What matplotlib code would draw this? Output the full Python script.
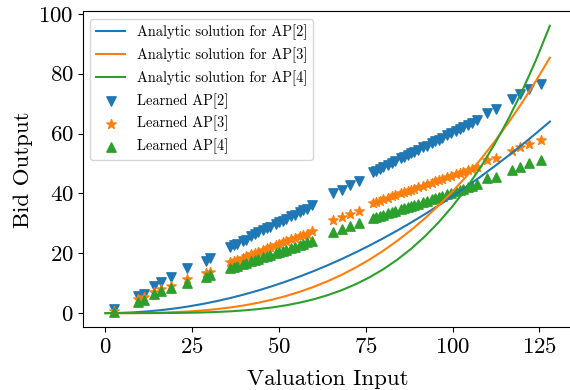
import matplotlib
matplotlib.use("Agg")
import matplotlib.pyplot as plt

plt.rcParams["font.family"] = "serif"
plt.rcParams["font.serif"] = ["cmr10"]
plt.rcParams["mathtext.fontset"] = "cm"
plt.rcParams["axes.unicode_minus"] = False
plt.rcParams["axes.formatter.use_mathtext"] = True

# analytic bid functions, every 4 units of valuation
grid = [0, 4, 8, 12, 16, 20, 24, 28, 32, 36, 40, 44, 48, 52, 56, 60, 64,
        68, 72, 76, 80, 84, 88, 92, 96, 100, 104, 108, 112, 116, 120, 124, 128]
analytic_ap2 = [0, 0.06, 0.25, 0.56, 1.0, 1.56, 2.25, 3.06, 4.0, 5.06, 6.25, 7.56,
                9.0, 10.56, 12.25, 14.06, 16.0, 18.06, 20.25, 22.56, 25.0, 27.56,
                30.25, 33.06, 36.0, 39.06, 42.25, 45.56, 49.0, 52.56, 56.25, 60.06, 64.0]
analytic_ap3 = [0, 0.003, 0.02, 0.07, 0.17, 0.33, 0.56, 0.89, 1.33, 1.90, 2.60, 3.47,
                4.5, 5.72, 7.15, 8.79, 10.67, 12.79, 15.19, 17.86, 20.83, 24.12,
                27.73, 31.68, 36.0, 40.69, 45.77, 51.26, 57.17, 63.51, 70.31, 77.58, 85.33]
analytic_ap4 = [0, 0.0001, 0.0015, 0.007, 0.023, 0.057, 0.12, 0.22, 0.375, 0.60, 0.92,
                1.34, 1.90, 2.61, 3.52, 4.63, 6.0, 7.65, 9.61, 11.93, 14.65, 17.81,
                21.45, 25.62, 30.38, 35.76, 41.84, 48.65, 56.27, 64.75, 74.16, 84.55, 96.0]

# learned bids at the sampled valuations
valuations = [2.5, 9.5, 11, 14, 16, 19, 23.5, 29, 30,
              36, 37, 38, 39.5, 40.5, 42, 43, 44, 45.5, 46.5, 47.5, 49, 50, 51, 52,
              53.5, 54.5, 56, 57, 58, 59.5,
              65.5, 68, 70.5, 73,
              77, 78, 79, 80, 81.5, 82.5, 83.5, 85, 86, 87, 88, 89, 90, 91.5, 92.5,
              94, 95, 96, 97, 98.5, 99.5, 101, 102, 103, 104.5, 105.5, 107,
              110, 112.5, 117, 119.5, 122, 125.5]
learned_ap2 = [1.5, 5.8, 6.3, 9.0, 10.3, 12.0, 15.0, 17.5, 18.5,
               22.0, 22.7, 23.2, 24.2, 24.6, 25.8, 26.4, 27.0, 27.8, 28.3, 28.7, 29.7,
               30.3, 30.8, 31.4, 32.3, 32.8, 33.7, 34.3, 34.8, 36.0,
               40.0, 41.3, 42.8, 44.0,
               47.0, 47.6, 48.1, 48.8, 49.6, 50.2, 50.8, 51.7, 52.2, 52.8, 53.4, 54.0,
               54.5, 55.5, 56.0, 56.9, 57.5, 58.0, 58.6, 59.6, 60.1, 61.0, 61.6, 62.2,
               63.0, 63.6, 64.6,
               67.0, 68.3, 71.5, 73.2, 74.8, 76.5]
learned_ap3 = [0.8, 4.8, 5.3, 7.0, 8.0, 9.0, 11.5, 13.3, 13.8,
               17.0, 17.5, 17.8, 18.5, 19.0, 19.6, 20.1, 20.5, 21.2, 21.6, 22.0, 22.7,
               23.1, 23.6, 24.0, 24.7, 25.1, 25.8, 26.2, 26.6, 27.4,
               31.0, 32.0, 33.0, 34.0,
               36.7, 37.1, 37.5, 38.0, 38.6, 39.0, 39.4, 40.0, 40.4, 40.8, 41.2, 41.6,
               42.0, 42.6, 43.0, 43.6, 44.0, 44.4, 44.8, 45.4, 45.8, 46.4, 46.8, 47.2,
               47.8, 48.2, 48.8,
               51.0, 52.0, 54.3, 55.5, 56.6, 58.0]
learned_ap4 = [0.5, 3.8, 4.4, 6.5, 7.5, 8.5, 10.0, 12.0, 12.6,
               15.0, 15.4, 15.8, 16.4, 16.8, 17.3, 17.7, 18.1, 18.6, 19.0, 19.4, 20.0,
               20.4, 20.8, 21.2, 21.8, 22.2, 22.8, 23.2, 23.6, 24.2,
               27.0, 28.0, 29.0, 30.0,
               31.7, 32.1, 32.5, 32.9, 33.4, 33.8, 34.2, 34.7, 35.1, 35.5, 35.8, 36.2,
               36.6, 37.2, 37.5, 38.1, 38.5, 38.9, 39.2, 39.8, 40.2, 40.7, 41.1, 41.5,
               42.0, 42.4, 43.0,
               45.0, 45.5, 47.7, 48.8, 50.0, 51.3]

x_ticks = [0, 25, 50, 75, 100, 125]
y_ticks = [0, 20, 40, 60, 80, 100]

fig = plt.figure(figsize=(5.7, 3.9), dpi=100)
ax = fig.add_axes([0.1461, 0.1603, 0.8575, 0.8103])

ax.plot(grid, analytic_ap2, color="tab:blue", lw=1.5, label="Analytic solution for AP[2]")
ax.plot(grid, analytic_ap3, color="tab:orange", lw=1.5, label="Analytic solution for AP[3]")
ax.plot(grid, analytic_ap4, color="tab:green", lw=1.5, label="Analytic solution for AP[4]")
ax.scatter(valuations, learned_ap2, marker="v", s=45, color="tab:blue", label="Learned AP[2]")
ax.scatter(valuations, learned_ap3, marker="*", s=50, color="tab:orange", label="Learned AP[3]")
ax.scatter(valuations, learned_ap4, marker="^", s=45, color="tab:green", label="Learned AP[4]")

ax.set_xticks(x_ticks)
ax.set_yticks(y_ticks)
ax.set_xlabel("Valuation Input", fontsize=16.5, labelpad=9)
ax.set_ylabel("Bid Output", fontsize=16.5)
ax.tick_params(labelsize=16.5)
ax.legend(loc="upper left", fontsize=10.4)

fig.savefig("out.png", dpi=100)
